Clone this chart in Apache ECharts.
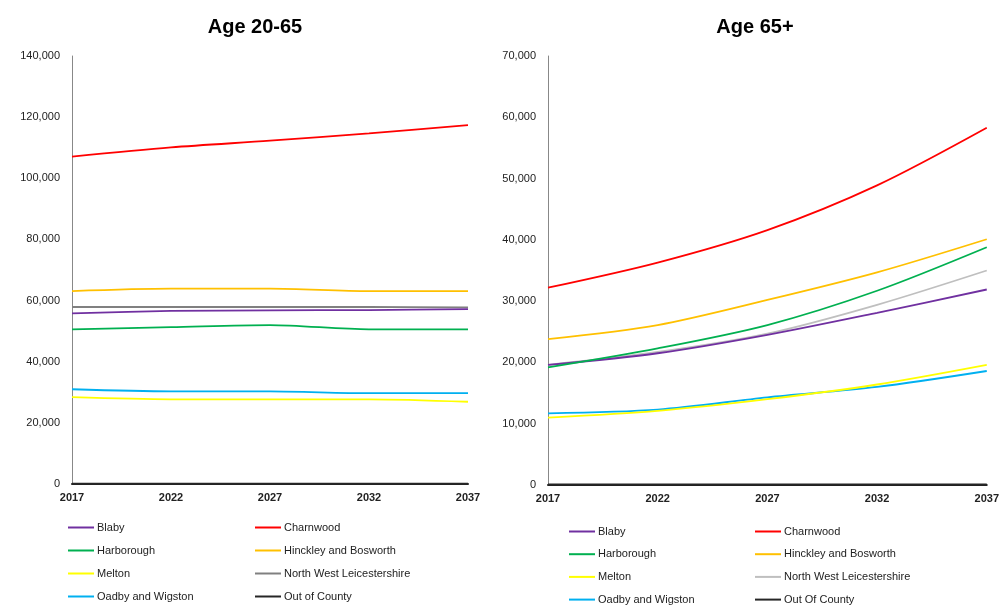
<!DOCTYPE html>
<html>
<head>
<meta charset="utf-8">
<script src="https://cdn.jsdelivr.net/npm/echarts@6/dist/echarts.min.js"></script>
<style>
  html, body { margin: 0; padding: 0; background: #fff; }
  #main { width: 1002px; height: 606px; }
</style>
</head>
<body>
<div id="main"></div>
<script>
// years on both x axes
const years = ['2017', '2022', '2027', '2032', '2037']

// Age 20-65 (left panel)
const blabyWork = [55800, 56600, 56800, 56900, 57200]
const charnwoodWork = [107100, 110100, 112300, 114700, 117400]
const harboroughWork = [50600, 51300, 52000, 50600, 50600]
const hinckleyWork = [63100, 63900, 63900, 63100, 63100]
const meltonWork = [28400, 27700, 27700, 27700, 26900]
const nwLeicsWork = [57900, 57900, 57900, 57900, 57800]
const oadbyWork = [31000, 30300, 30300, 29700, 29700]
const outCountyWork = [100, 100, 100, 100, 100]

// Age 65+ (right panel)
const blabyOld = [19600, 21500, 24500, 28100, 31900]
const charnwoodOld = [32200, 36300, 41600, 48900, 58300]
const harboroughOld = [19200, 22300, 26100, 31700, 38800]
const hinckleyOld = [23800, 26100, 30200, 34700, 40100]
const meltonOld = [11000, 12100, 14000, 16400, 19600]
const nwLeicsOld = [19600, 21700, 24700, 29400, 35000]
const oadbyOld = [11700, 12300, 14300, 16000, 18600]
const outCountyOld = [100, 100, 100, 100, 100]

const colors = {
  'Blaby': '#7030A0',
  'Charnwood': '#FF0000',
  'Harborough': '#00B050',
  'Hinckley and Bosworth': '#FFC000',
  'Melton': '#FFFF00',
  'North West Leicestershire': '#808080',
  'Oadby and Wigston': '#00B0F0',
  'Out of County': '#262626',
  'Out Of County': '#262626'
}

const chart = echarts.init(document.getElementById('main'))
const fontFam = '"Liberation Sans", Arial, sans-serif'

function mkSeries(name, data, idx, color) {
  return {
    name: name,
    type: 'line',
    xAxisIndex: idx,
    yAxisIndex: idx,
    data: data,
    smooth: 0.3,
    symbol: 'none',
    lineStyle: { width: 1.8, color: color || colors[name] },
    itemStyle: { color: color || colors[name] }
  }
}

function mkLegend(names, left, top, gap) {
  return {
    data: names,
    orient: 'vertical',
    left: left,
    top: top,
    height: 90,
    padding: 0,
    itemWidth: 26,
    itemHeight: 10,
    itemGap: gap,
    icon: 'path://M0,4 L26,4 L26,6 L0,6 Z',
    textStyle: { fontFamily: fontFam, fontSize: 11, color: '#222', padding: [0, 0, 0, -2] },
    selectedMode: false
  }
}

const yLabel = {
  fontFamily: fontFam,
  fontSize: 11,
  color: '#222',
  margin: 12,
  formatter: (v) => v.toLocaleString('en-US')
}
const xLabel = { fontFamily: fontFam, fontSize: 11, color: '#222', fontWeight: 'bold', interval: 0, margin: 8 }

const option = {
  animation: false,
  backgroundColor: '#fff',
  title: [
    { text: 'Age 20-65', left: 250, top: 12, textAlign: 'center',
      textStyle: { fontFamily: fontFam, fontSize: 20, fontWeight: 'bold', color: '#000' } },
    { text: 'Age 65+', left: 750, top: 12, textAlign: 'center',
      textStyle: { fontFamily: fontFam, fontSize: 20, fontWeight: 'bold', color: '#000' } }
  ],
  legend: [
    mkLegend(['Blaby', 'Harborough', 'Melton', 'Oadby and Wigston'], 68, 522, 12),
    mkLegend(['Charnwood', 'Hinckley and Bosworth', 'North West Leicestershire', 'Out of County'], 255, 522, 12),
    mkLegend(['Blaby ', 'Harborough ', 'Melton ', 'Oadby and Wigston '], 569, 526, 11.7),
    mkLegend(['Charnwood ', 'Hinckley and Bosworth ', 'North West Leicestershire ', 'Out Of County'], 755, 526, 11.7)
  ],
  grid: [
    { left: 72, right: 534, top: 56, bottom: 122 },
    { left: 548, right: 13, top: 56, bottom: 121 }
  ],
  xAxis: [0, 1].map((i) => ({
    type: 'category',
    gridIndex: i,
    data: years,
    boundaryGap: false,
    axisTick: { show: false },
    axisLine: { lineStyle: { color: '#222', width: 2 } },
    axisLabel: xLabel
  })),
  yAxis: [
    { type: 'value', gridIndex: 0, min: 0, max: 140000, interval: 20000,
      axisLine: { show: true, lineStyle: { color: '#888', width: 1 } },
      axisTick: { show: false }, splitLine: { show: false }, axisLabel: yLabel },
    { type: 'value', gridIndex: 1, min: 0, max: 70000, interval: 10000,
      axisLine: { show: true, lineStyle: { color: '#888', width: 1 } },
      axisTick: { show: false }, splitLine: { show: false }, axisLabel: yLabel }
  ],
  series: [
    mkSeries('Out of County', outCountyWork, 0),
    mkSeries('Oadby and Wigston', oadbyWork, 0),
    mkSeries('Melton', meltonWork, 0),
    mkSeries('Harborough', harboroughWork, 0),
    mkSeries('North West Leicestershire', nwLeicsWork, 0),
    mkSeries('Blaby', blabyWork, 0),
    mkSeries('Hinckley and Bosworth', hinckleyWork, 0),
    mkSeries('Charnwood', charnwoodWork, 0),

    mkSeries('Out Of County', outCountyOld, 1),
    mkSeries('Oadby and Wigston ', oadbyOld, 1, colors['Oadby and Wigston']),
    mkSeries('Melton ', meltonOld, 1, colors['Melton']),
    mkSeries('North West Leicestershire ', nwLeicsOld, 1, '#BFBFBF'),
    mkSeries('Blaby ', blabyOld, 1, colors['Blaby']),
    mkSeries('Harborough ', harboroughOld, 1, colors['Harborough']),
    mkSeries('Hinckley and Bosworth ', hinckleyOld, 1, colors['Hinckley and Bosworth']),
    mkSeries('Charnwood ', charnwoodOld, 1, colors['Charnwood'])
  ]
}

option && chart.setOption(option)
</script>
</body>
</html>
